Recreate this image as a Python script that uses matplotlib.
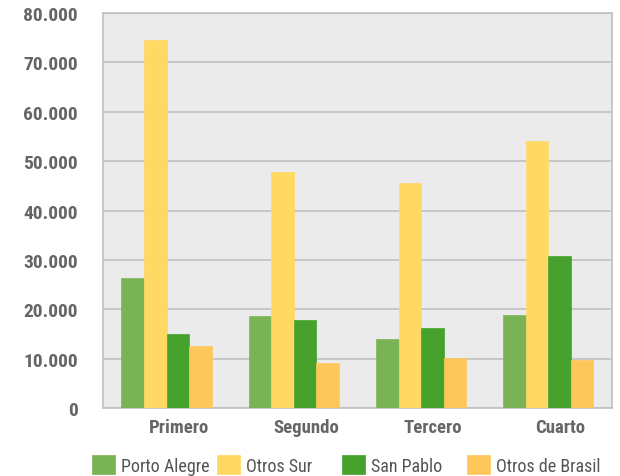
import matplotlib
matplotlib.use("Agg")
import matplotlib.pyplot as plt
import matplotlib.transforms as mtransforms
import numpy as np

categories = ["Primero", "Segundo", "Tercero", "Cuarto"]
series_names = ["Porto Alegre", "Otros Sur", "San Pablo", "Otros de Brasil"]
porto_alegre = [26400, 18600, 13900, 18800]
otros_sur = [74600, 47800, 45500, 54000]
san_pablo = [15000, 17900, 16300, 30800]
otros_brasil = [12500, 9100, 10100, 9700]
yticks = [0, 10000, 20000, 30000, 40000, 50000, 60000, 70000, 80000]
ytick_labels = ["0", "10.000", "20.000", "30.000", "40.000", "50.000", "60.000", "70.000", "80.000"]

colors = ["#7ab356", "#ffd963", "#46a22c", "#fdc859"]
values = [porto_alegre, otros_sur, san_pablo, otros_brasil]

plt.rcParams['font.family'] = ['Roboto Condensed', 'Liberation Sans Narrow', 'DejaVu Sans']

fig = plt.figure(figsize=(6.2, 4.77), dpi=100)
ax = fig.add_axes([0.166, 0.1426, 0.821, 0.828])
ax.set_facecolor("#ebebeb")

x = np.arange(len(categories))
w = 0.177
bars = []
for i, (vals, c, name) in enumerate(zip(values, colors, series_names)):
    b = ax.bar(x + (i - 1.5) * w, vals, width=w, color=c, label=name, zorder=3,
               edgecolor=c, linewidth=0.5)
    bars.append(b)

ax.set_xlim(-0.5, len(categories) - 0.5)
ax.set_ylim(0, 80000)
ax.set_yticks(yticks)
ax.set_yticklabels(ytick_labels, fontsize=14, fontweight='bold', color="#666666")
ax.yaxis.grid(True, color="#c0c0c0", linewidth=1.2, zorder=1)
ax.tick_params(axis='y', length=0, pad=18)
ax.set_xticks(x)
ax.set_xticklabels(categories, fontsize=13.5, fontweight='bold', color="#666666")
ax.tick_params(axis='x', length=0, pad=7.5)
offset = mtransforms.ScaledTranslation(12 / 100, 0, fig.dpi_scale_trans)
for lab in ax.get_xticklabels():
    lab.set_transform(lab.get_transform() + offset)

for s in ax.spines.values():
    s.set_color("#c0c0c0")
    s.set_linewidth(1.2)

# legend: fixed-width columns, one legend per entry
col_x = [92, 217, 342, 467]
for b, name, px in zip(bars, series_names, col_x):
    leg = fig.legend([b], [name], loc='center left',
                     bbox_to_anchor=(px / 620, 1 - 466 / 477),
                     frameon=False, fontsize=13, handlelength=1.27,
                     handleheight=1.25, handletextpad=0.33,
                     borderpad=0, borderaxespad=0)
    for t in leg.get_texts():
        t.set_color("#555555")

fig.savefig("out.png", dpi=100)
